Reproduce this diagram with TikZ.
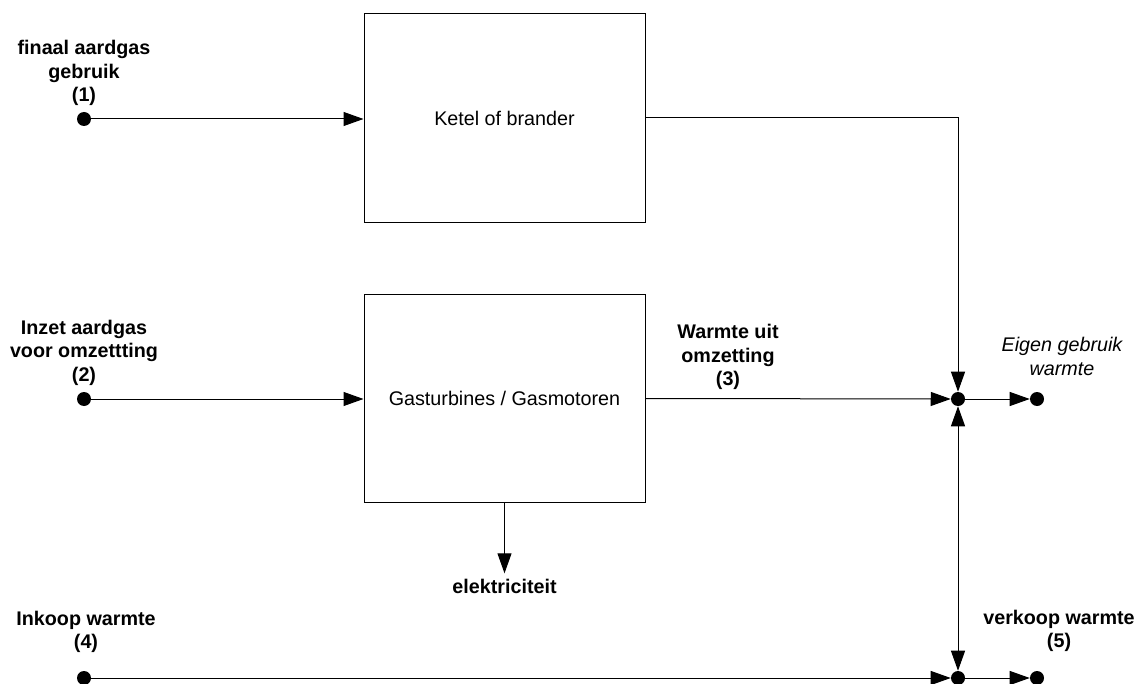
\documentclass[tikz,border=0pt]{standalone}
\usepackage{fontspec}
\setmainfont{Liberation Sans}
\usetikzlibrary{arrows.meta, positioning}

\tikzset{
  unitbox/.style={draw, line width=0.75pt, minimum width=210.75pt, minimum height=156.5pt, inner sep=0pt, font=\fontsize{14.8pt}{17.5pt}\selectfont},
  dot/.style={circle, fill=black, inner sep=0pt, minimum size=10.5pt},
  lbl/.style={align=center, inner sep=0pt, font=\fontsize{14.8pt}{17.5pt}\selectfont\bfseries},
  note/.style={align=center, inner sep=0pt, font=\fontsize{14.8pt}{18pt}\selectfont\itshape},
  flow/.style={line width=0.75pt}
}

\begin{document}
\begin{tikzpicture}[x=0.75pt, y=-0.75pt, >={Triangle[length=15pt,width=10.5pt]}]
\useasboundingbox (0,0) rectangle (1141,684);
% blokken
\node[unitbox] (ketel) at (504.5,118) {Ketel of brander};
\node[unitbox] (gas) at (504.5,398.5) {Gasturbines / Gasmotoren};
% punten
\node[dot] (d1) at (84,119) {};
\node[dot] (d2) at (84,399) {};
\node[dot] (d4) at (84,678) {};
\node[dot] (j1) at (958,399) {};
\node[dot] (j2) at (958,678) {};
\node[dot] (e1) at (1037,399) {};
\node[dot] (e2) at (1037,678) {};
% labels
\node[lbl, anchor=south] (l1) at (84,106) {finaal aardgas\\gebruik\\(1)};
\node[lbl, anchor=south] (l2) at (84,385.5) {Inzet aardgas\\voor omzettting\\(2)};
\node[lbl, anchor=south] (l3) at (728,390) {Warmte uit\\omzetting\\(3)};
\node[lbl, anchor=south] (l4) at (86,653) {Inkoop warmte\\(4)};
\node[lbl, anchor=south] (l5) at (1059,652) {verkoop warmte\\(5)};
\node[note, anchor=south] (l6) at (1062,376) {Eigen gebruik\\warmte};
\node[lbl, below=57pt of gas] (elek) {elektriciteit};
% stromen
\draw[flow, ->] (d1) -- (d1 -| ketel.west);
\draw[flow, ->] (d2) -- (d2 -| gas.west);
\draw[flow, ->] (ketel.east) -| (j1);
\draw[flow, ->] (gas.east) -- (j1);
\draw[flow, ->] (j1) -- (e1);
\draw[flow, <->] (j1) -- (j2);
\draw[flow, ->] (d4) -- (j2);
\draw[flow, ->] (j2) -- (e2);
\draw[flow, ->, shorten >=4.5pt] (gas.south) -- (elek.north);
\end{tikzpicture}
\end{document}
